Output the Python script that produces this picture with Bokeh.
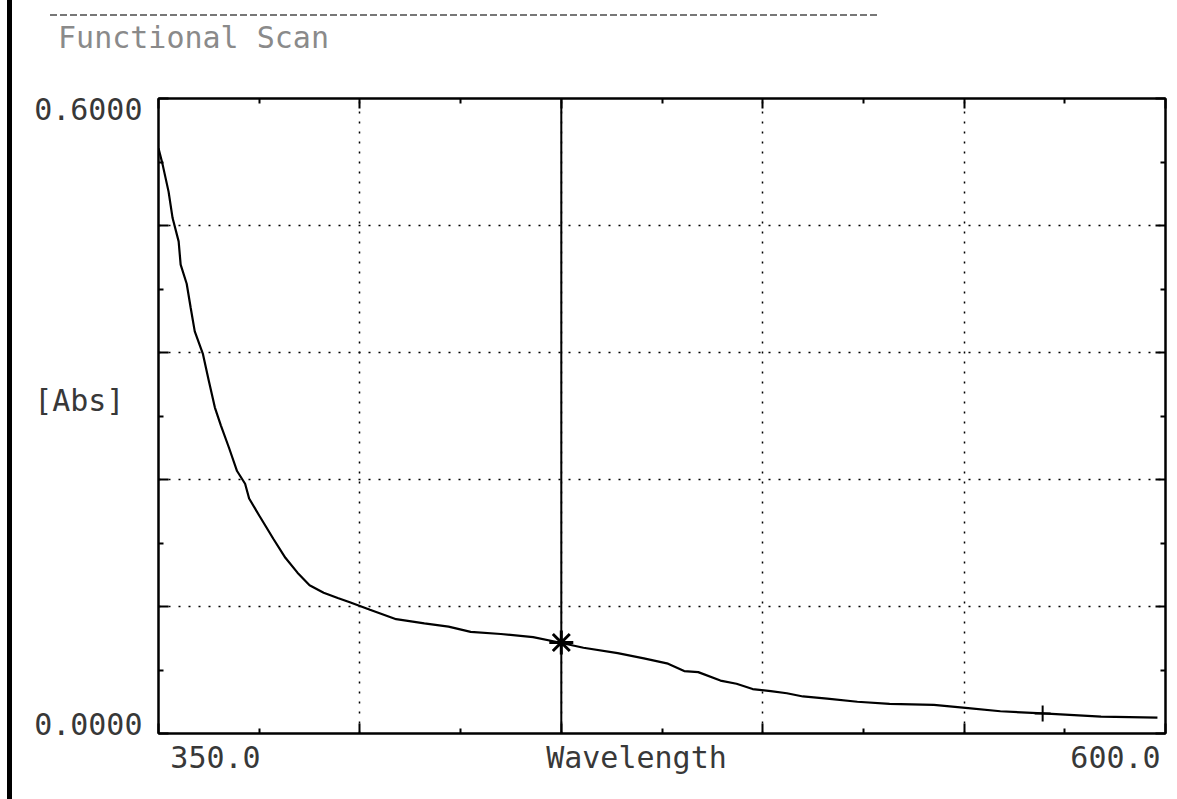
from bokeh.plotting import figure
from bokeh.models import Range1d, FixedTicker, LinearAxis, Span, ColumnDataSource, Div, Spacer
from bokeh.layouts import row, column
from bokeh.embed import file_html
from bokeh.resources import INLINE

# ---- data ----
wavelength = [350.0, 351.0, 352.5, 353.5, 355.0, 355.5, 357.0, 358.0, 359.0, 361.0,
              362.5, 364.0, 365.5, 367.5, 369.5, 371.5, 372.5, 375.0, 378.5, 381.5,
              384.5, 387.5, 391.0, 394.5, 397.5, 402.5, 409.0, 416.0, 422.0, 427.5,
              435.0, 443.0, 449.5, 455.5, 464.0, 470.5, 476.5, 480.5, 484.0, 489.5,
              493.5, 497.5, 502.0, 506.0, 510.0, 516.0, 523.5, 531.5, 542.5, 551.0,
              559.0, 569.5, 584.0, 598.0]
absorbance = [0.553, 0.538, 0.512, 0.487, 0.465, 0.443, 0.425, 0.402, 0.380, 0.359,
              0.333, 0.308, 0.291, 0.270, 0.248, 0.236, 0.222, 0.206, 0.184, 0.166,
              0.152, 0.140, 0.133, 0.128, 0.124, 0.117, 0.108, 0.104, 0.101, 0.096,
              0.094, 0.091, 0.086, 0.081, 0.076, 0.071, 0.066, 0.059, 0.058, 0.050,
              0.047, 0.042, 0.040, 0.038, 0.035, 0.033, 0.030, 0.028, 0.027, 0.024,
              0.021, 0.019, 0.016, 0.015]

x_major = [350, 400, 450, 500, 550, 600]
x_minor = [375, 425, 475, 525, 575]
x_grid = [400, 450, 500, 550]
y_major = [0.0, 0.12, 0.24, 0.36, 0.48, 0.6]
y_minor = [0.06, 0.18, 0.30, 0.42, 0.54]
y_grid = [0.12, 0.24, 0.36, 0.48]

x_tick_values = [350.0, 600.0]
x_tick_labels = ["350.0", "600.0"]
y_tick_values = [0.0, 0.6]
y_tick_labels = ["0.0000", "0.6000"]
title_text = "Functional Scan"
x_title = "Wavelength"
y_title = "[Abs]"

cursor_wl = [450.0]
cursor_abs = [0.086]
mark_wl = [569.5]
mark_abs = [0.019]

# ---- geometry / style ----
X0, X1, Y0, Y1 = 350, 600, 0.0, 0.6
FRAME_W, FRAME_H = 1007, 636
XU = (X1 - X0) / FRAME_W      # data units per pixel
YU = (Y1 - Y0) / FRAME_H
FONT = "DejaVu Sans Mono"
FS = "30px"
TXT = "#383838"

p = figure(width=1165, height=783, x_range=Range1d(X0, X1), y_range=Range1d(Y0, Y1),
           output_backend="svg", toolbar_location=None,
           min_border_left=146, min_border_right=12, min_border_top=81, min_border_bottom=66,
           background_fill_color="white", border_fill_color="white")
p.outline_line_color = "black"
p.outline_line_width = 2

def style(ax):
    ax.major_label_text_font_size = "1px"
    ax.major_label_text_color = None
    ax.major_label_standoff = 0
    ax.major_tick_in = 10
    ax.major_tick_out = 0
    ax.minor_tick_in = 5
    ax.minor_tick_out = 0
    ax.axis_line_color = "black"
    ax.axis_line_width = 2
    ax.major_tick_line_color = "black"
    ax.major_tick_line_width = 2
    ax.minor_tick_line_color = "black"
    ax.minor_tick_line_width = 2

p.xaxis.ticker = FixedTicker(ticks=x_major, minor_ticks=x_minor)
p.yaxis.ticker = FixedTicker(ticks=y_major, minor_ticks=y_minor)
style(p.xaxis[0])
style(p.yaxis[0])
top_ax = LinearAxis(ticker=FixedTicker(ticks=x_major, minor_ticks=x_minor))
right_ax = LinearAxis(ticker=FixedTicker(ticks=y_major, minor_ticks=y_minor))
style(top_ax)
style(right_ax)
p.add_layout(top_ax, "above")
p.add_layout(right_ax, "right")

def label_axis(ticks, labels, standoff, color=TXT):
    ax = LinearAxis(ticker=FixedTicker(ticks=ticks, minor_ticks=[]),
                    major_label_overrides={t: s for t, s in zip(ticks, labels)})
    ax.axis_line_color = None
    ax.major_tick_line_color = None
    ax.minor_tick_line_color = None
    ax.major_tick_in = 0
    ax.major_tick_out = 0
    ax.major_label_standoff = standoff
    ax.major_label_text_font = FONT
    ax.major_label_text_font_size = FS
    ax.major_label_text_color = color
    ax.major_label_orientation = "horizontal"
    return ax

# bottom texts: tick values + axis title (placed where the instrument printed them)
bx = [x_tick_values[0] + 57 * XU, X0 + 478 * XU, x_tick_values[1] - 50 * XU]
p.add_layout(label_axis(bx, [x_tick_labels[0], x_title, x_tick_labels[1]], 6), "below")
# left texts ("[Abs]" is printed one character further left than the values)
ly = [y_tick_values[1] - 11.5 * YU, Y0 + 334 * YU, y_tick_values[0] + 9.5 * YU]
p.add_layout(label_axis(ly, [y_tick_labels[1], y_title + "\u00a0", y_tick_labels[0]], 16), "left")
# top title
p.add_layout(label_axis([X0 + 35 * XU], [title_text], 44, color="#8a8a8a"), "above")

p.xgrid.ticker = FixedTicker(ticks=x_grid)
p.ygrid.ticker = FixedTicker(ticks=y_grid)
for g in (p.xgrid[0], p.ygrid[0]):
    g.grid_line_color = "black"
    g.grid_line_dash = "2 8"
    g.grid_line_width = 1.5

# spectrum
src = ColumnDataSource(dict(x=wavelength, y=absorbance))
p.line("x", "y", source=src, line_color="black", line_width=2.2)

# cursor
p.add_layout(Span(location=cursor_wl[0], dimension="height", line_color="black", line_width=2))
p.scatter(cursor_wl, cursor_abs, marker="asterisk", size=24, line_color="black", line_width=3)
p.scatter(mark_wl, mark_abs, marker="cross", size=16, line_color="black", line_width=2)

# scan artefacts: thick left border and faint dashed line at the top
border = Div(width=5, height=799, margin=(0, 0, 0, 0), styles={"background-color": "black"})
dash = Div(width=830, height=2, margin=(0, 0, 0, 38),
           styles={"background": "repeating-linear-gradient(90deg, #777 0px, #777 7px, transparent 7px, transparent 10px)"})
layout = row(Spacer(width=7, height=799), border,
             column(Spacer(width=1165, height=14), dash, p))

open("out.html", "w").write(file_html(layout, INLINE))
